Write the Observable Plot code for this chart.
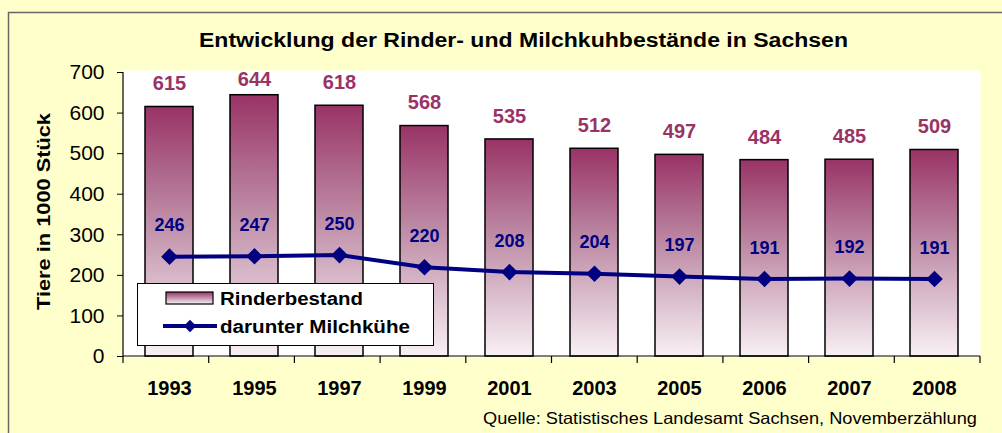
<!DOCTYPE html>
<html>
<head>
<meta charset="utf-8">
<script src="https://cdn.jsdelivr.net/npm/d3@7"></script>
<script src="https://cdn.jsdelivr.net/npm/@observablehq/plot@0.6"></script>
<style>
  html, body { margin: 0; padding: 0; background: #FFFFCC; }
  svg { display: block; }
</style>
</head>
<body>
<div id="chart"></div>
<script>
const years = ["1993", "1995", "1997", "1999", "2001", "2003", "2005", "2006", "2007", "2008"];
const rinderbestand = [615, 644, 618, 568, 535, 512, 497, 484, 485, 509];
const milchkuehe = [246, 247, 250, 220, 208, 204, 197, 191, 192, 191];
const yTicks = [0, 100, 200, 300, 400, 500, 600, 700];

const titleText = "Entwicklung der Rinder- und Milchkuhbestände in Sachsen";
const yLabel = "Tiere in 1000 Stück";
const sourceText = "Quelle: Statistisches Landesamt Sachsen, Novemberzählung";
const seriesNames = ["Rinderbestand", "darunter Milchkühe"];

const data = years.map((y, i) => ({year: y, rinder: rinderbestand[i], milch: milchkuehe[i]}));

const FONT = "Arial, 'Liberation Sans', Helvetica, sans-serif";
const BAR_DARK = "#993366";
const LINE_COL = "#000080";

const chart = Plot.plot({
  width: 1002,
  height: 433,
  marginLeft: 123,
  marginRight: 22,
  marginTop: 72,
  marginBottom: 77,
  style: {background: "#FFFFCC", fontFamily: FONT, color: "black", overflow: "visible"},
  x: {domain: years, paddingInner: 0.44, paddingOuter: 0.22, label: null},
  y: {domain: [0, 700], label: null},
  marks: [
    Plot.frame({fill: "white", stroke: null, insetTop: -2}),
    Plot.barY(data, {x: "year", y: "rinder", fill: "url(#rgrad)", stroke: "black", strokeWidth: 1.5}),
    Plot.text(data, {x: "year", y: d => Math.min(d.rinder, 625), text: d => String(d.rinder), dy: -23, fill: BAR_DARK, fontWeight: "bold", fontSize: 20}),
    Plot.line(data, {x: "year", y: "milch", stroke: LINE_COL, strokeWidth: 4}),
    Plot.dot(data, {x: "year", y: "milch", symbol: "diamond2", r: 7.5, fill: LINE_COL, stroke: null}),
    Plot.text(data, {x: "year", y: "milch", text: d => String(d.milch), dy: -31, fill: LINE_COL, fontWeight: "bold", fontSize: 18}),
    Plot.axisY({ticks: yTicks, tickSize: 6, tickPadding: 13, fontSize: 21, label: null, stroke: "black", fill: "black"}),
    Plot.axisX({tickSize: 0, tickPadding: 24, fontSize: 20, fontWeight: "bold", label: null, fill: "black"})
  ]
});

document.getElementById("chart").appendChild(chart);

const svg = d3.select(chart);
const xs = chart.scale("x");
const ys = chart.scale("y");

// gradient
const defs = svg.insert("defs", ":first-child");
const grad = defs.append("linearGradient").attr("id", "rgrad")
  .attr("x1", 0).attr("y1", 0).attr("x2", 0).attr("y2", 1);
grad.append("stop").attr("offset", "0%").attr("stop-color", BAR_DARK);
grad.append("stop").attr("offset", "45%").attr("stop-color", "#BE8CA6");
grad.append("stop").attr("offset", "100%").attr("stop-color", "#F8F0F5");

// outer border
svg.insert("rect", "defs + *")
  .attr("x", 8.5).attr("y", 12.5).attr("width", 1000).attr("height", 430)
  .attr("fill", "none").attr("stroke", "#666").attr("stroke-width", 1.5);

// axis lines and x ticks at band boundaries
const [r0, r1] = xs.range;
const y0 = ys.apply(0);
const yTop = ys.apply(700);
const g = svg.append("g").attr("stroke", "black").attr("stroke-width", 1.2);
g.append("line").attr("x1", r0).attr("x2", r0).attr("y1", yTop).attr("y2", y0 + 7);
g.append("line").attr("x1", r0).attr("x2", r1).attr("y1", y0).attr("y2", y0);
const step = (r1 - r0) / years.length;
for (let i = 1; i <= years.length; i++) {
  const bx = r0 + i * step;
  g.append("line").attr("x1", bx).attr("x2", bx).attr("y1", y0).attr("y2", y0 + 7);
}

const txt = (sel) => sel.attr("font-family", FONT).attr("fill", "black");

// title
txt(svg.append("text")).attr("x", 523.5).attr("y", 47).attr("text-anchor", "middle")
  .attr("font-weight", "bold").attr("font-size", 19.5)
  .attr("textLength", 649).attr("lengthAdjust", "spacingAndGlyphs")
  .text(titleText);

// y label
txt(svg.append("text")).attr("transform", "translate(50,211.5) rotate(-90)").attr("text-anchor", "middle")
  .attr("font-weight", "bold").attr("font-size", 18)
  .attr("textLength", 197).attr("lengthAdjust", "spacingAndGlyphs")
  .text(yLabel);

// source
txt(svg.append("text")).attr("x", 483).attr("y", 424).attr("text-anchor", "start")
  .attr("font-size", 16.5)
  .attr("textLength", 494).attr("lengthAdjust", "spacingAndGlyphs")
  .text(sourceText);

// legend
const lg = svg.append("g");
lg.append("rect").attr("x", 137.5).attr("y", 283.5).attr("width", 296).attr("height", 62)
  .attr("fill", "white").attr("stroke", "black").attr("stroke-width", 1);
lg.append("rect").attr("x", 166).attr("y", 292).attr("width", 47).attr("height", 12)
  .attr("fill", "url(#rgrad)").attr("stroke", "black").attr("stroke-width", 1.2);
txt(lg.append("text")).attr("x", 220).attr("y", 305).attr("text-anchor", "start")
  .attr("font-weight", "bold").attr("font-size", 18)
  .attr("textLength", 143).attr("lengthAdjust", "spacingAndGlyphs")
  .text(seriesNames[0]);
lg.append("line").attr("x1", 163).attr("x2", 217).attr("y1", 326).attr("y2", 326)
  .attr("stroke", LINE_COL).attr("stroke-width", 4);
lg.append("path").attr("d", d3.symbol(d3.symbolDiamond2, 100)()).attr("transform", "translate(190,326)")
  .attr("fill", LINE_COL);
txt(lg.append("text")).attr("x", 220).attr("y", 333).attr("text-anchor", "start")
  .attr("font-weight", "bold").attr("font-size", 18)
  .attr("textLength", 190).attr("lengthAdjust", "spacingAndGlyphs")
  .text(seriesNames[1]);
</script>
</body>
</html>
